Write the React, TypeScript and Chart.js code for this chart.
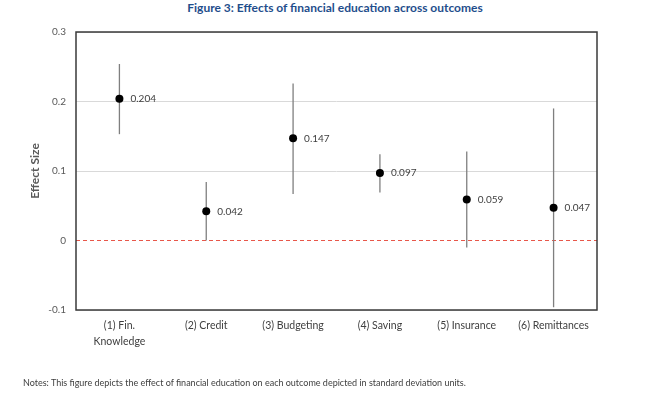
import React, { useEffect, useRef } from "react";
import { Chart, registerables } from "chart.js";

Chart.register(...registerables);

const categories: (string | string[])[] = [
  ["(1) Fin.", "Knowledge"],
  "(2) Credit",
  "(3) Budgeting",
  "(4) Saving",
  "(5) Insurance",
  "(6) Remittances",
];
const estimates = [0.204, 0.042, 0.147, 0.097, 0.059, 0.047];
const ciLower = [0.153, 0.0, 0.067, 0.069, -0.01, -0.096];
const ciUpper = [0.254, 0.084, 0.226, 0.124, 0.128, 0.19];
const yMin = -0.1;
const yMax = 0.3;
const yStep = 0.1;

const FONT = "Lato, 'Open Sans', sans-serif";
const PAD = { left: 0, right: 49, top: 32, bottom: 0 };
const Y_AXIS_WIDTH = 76;
const X_AXIS_HEIGHT = 86;

const decorPlugin = {
  id: "decor",
  beforeDatasetsDraw(chart: any) {
    const { ctx, chartArea } = chart;
    const y = chart.scales.y;
    const x = chart.scales.x;
    ctx.save();
    // zero line
    const y0 = y.getPixelForValue(0);
    ctx.strokeStyle = "#e8574a";
    ctx.lineWidth = 1;
    ctx.setLineDash([4, 3]);
    ctx.beginPath();
    ctx.moveTo(chartArea.left, y0);
    ctx.lineTo(chartArea.right, y0);
    ctx.stroke();
    ctx.setLineDash([]);
    // error bars
    ctx.strokeStyle = "#7f7f7f";
    ctx.lineWidth = 1.3;
    estimates.forEach((_, i) => {
      const px = x.getPixelForValue(i);
      ctx.beginPath();
      ctx.moveTo(px, y.getPixelForValue(ciUpper[i]));
      ctx.lineTo(px, y.getPixelForValue(ciLower[i]));
      ctx.stroke();
    });
    // frame
    ctx.strokeStyle = "#3a3a3a";
    ctx.lineWidth = 1.5;
    ctx.strokeRect(
      chartArea.left,
      chartArea.top,
      chartArea.right - chartArea.left,
      chartArea.bottom - chartArea.top
    );
    // y title
    ctx.fillStyle = "#595959";
    ctx.font = `bold 12px ${FONT}`;
    ctx.textAlign = "center";
    ctx.textBaseline = "middle";
    ctx.translate(35, (chartArea.top + chartArea.bottom) / 2);
    ctx.rotate(-Math.PI / 2);
    ctx.fillText("Effect Size", 0, 0);
    ctx.restore();
  },
  afterDatasetsDraw(chart: any) {
    const { ctx } = chart;
    const meta = chart.getDatasetMeta(0);
    ctx.save();
    ctx.fillStyle = "#404040";
    ctx.font = `10px ${FONT}`;
    ctx.textAlign = "left";
    ctx.textBaseline = "middle";
    meta.data.forEach((pt: any, i: number) => {
      ctx.fillText(estimates[i].toFixed(3), pt.x + 11, pt.y);
    });
    ctx.restore();
  },
};

export default function App() {
  const ref = useRef<HTMLCanvasElement>(null);
  useEffect(() => {
    if (!ref.current) return;
    const chart = new Chart(ref.current, {
      type: "line",
      data: {
        labels: categories as any,
        datasets: [
          {
            data: estimates,
            showLine: false,
            pointRadius: 4,
            pointHoverRadius: 4,
            pointBackgroundColor: "#000000",
            pointBorderColor: "#000000",
            pointBorderWidth: 0,
          },
        ],
      },
      options: {
        responsive: false,
        animation: false,
        layout: { padding: PAD },
        plugins: {
          legend: { display: false },
          title: { display: false },
          tooltip: { enabled: false },
        },
        scales: {
          x: {
            offset: true,
            grid: { display: false, drawTicks: false },
            border: { display: false },
            ticks: {
              color: "#404040",
              font: { family: FONT, size: 10.5, lineHeight: 1.5 },
              padding: 8,
              maxRotation: 0,
              autoSkip: false,
            },
            afterFit: (s: any) => {
              s.height = X_AXIS_HEIGHT;
            },
          },
          y: {
            min: yMin,
            max: yMax,
            grid: {
              drawTicks: false,
              color: (c: any) =>
                c.tick && Math.abs(c.tick.value) < 1e-9 ? "rgba(0,0,0,0)" : "#d9d9d9",
              lineWidth: 1,
            },
            border: { display: false },
            ticks: {
              stepSize: yStep,
              color: "#595959",
              font: { family: FONT, size: 10 },
              padding: 10,
            },
            afterFit: (s: any) => {
              s.width = Y_AXIS_WIDTH;
            },
          },
        },
      },
      plugins: [decorPlugin],
    });
    return () => chart.destroy();
  }, []);

  return (
    <div
      style={{
        position: "fixed",
        left: 0,
        top: 0,
        width: 646,
        height: 396,
        background: "#ffffff",
      }}
    >
      <div
        style={{
          position: "absolute",
          left: 0,
          top: 1,
          width: 670,
          textAlign: "center",
          fontFamily: FONT,
          fontWeight: 700,
          fontSize: 12,
          color: "#1f4e8c",
          lineHeight: "14px",
        }}
      >
        Figure 3: Effects of financial education across outcomes
      </div>
      <canvas
        ref={ref}
        width={646}
        height={396}
        style={{ position: "absolute", left: 0, top: 0 }}
      />
      <div
        style={{
          position: "absolute",
          left: 23,
          top: 377,
          fontFamily: FONT,
          fontSize: 9,
          color: "#404040",
          lineHeight: "12px",
          whiteSpace: "nowrap",
        }}
      >
        Notes: This figure depicts the effect of financial education on each outcome depicted in
        standard deviation units.
      </div>
    </div>
  );
}
